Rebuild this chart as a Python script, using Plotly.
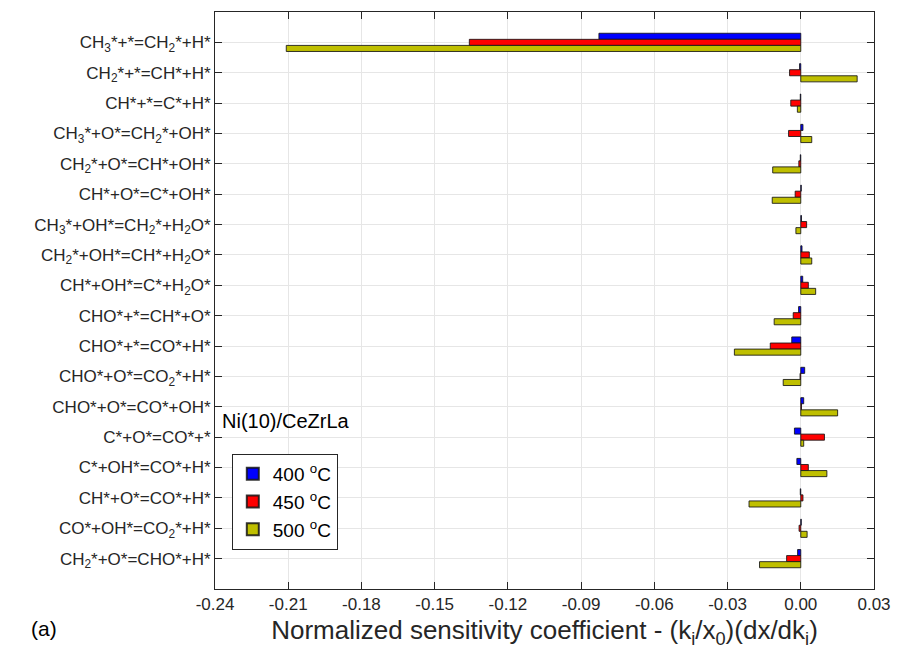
import plotly.graph_objects as go

reactions = [
    "CH<sub>3</sub>*+*=CH<sub>2</sub>*+H*",
    "CH<sub>2</sub>*+*=CH*+H*",
    "CH*+*=C*+H*",
    "CH<sub>3</sub>*+O*=CH<sub>2</sub>*+OH*",
    "CH<sub>2</sub>*+O*=CH*+OH*",
    "CH*+O*=C*+OH*",
    "CH<sub>3</sub>*+OH*=CH<sub>2</sub>*+H<sub>2</sub>O*",
    "CH<sub>2</sub>*+OH*=CH*+H<sub>2</sub>O*",
    "CH*+OH*=C*+H<sub>2</sub>O*",
    "CHO*+*=CH*+O*",
    "CHO*+*=CO*+H*",
    "CHO*+O*=CO<sub>2</sub>*+H*",
    "CHO*+O*=CO*+OH*",
    "C*+O*=CO*+*",
    "C*+OH*=CO*+H*",
    "CH*+O*=CO*+H*",
    "CO*+OH*=CO<sub>2</sub>*+H*",
    "CH<sub>2</sub>*+O*=CHO*+H*",
]

s400 = [-0.0827, -0.0005, -0.0002, 0.0009, -0.0002, 0.0002, 0.0003, 0.0005, 0.0008,
        -0.0009, -0.0037, 0.0016, 0.0012, -0.0026, -0.0016, -0.0002, 0.0002, -0.0013]
s450 = [-0.1358, -0.0046, -0.0041, -0.0050, -0.0008, -0.0023, 0.0024, 0.0035, 0.0031,
        -0.0031, -0.0125, -0.0003, 0.0003, 0.0097, 0.0031, 0.0009, -0.0007, -0.0058]
s500 = [-0.2108, 0.0231, -0.0014, 0.0045, -0.0115, -0.0117, -0.0020, 0.0045, 0.0061,
        -0.0109, -0.0272, -0.0072, 0.0151, 0.0012, 0.0107, -0.0212, 0.0026, -0.0169]

series_names = ["400 <sup>o</sup>C", "450 <sup>o</sup>C", "500 <sup>o</sup>C"]
series_colors = ["#0000ff", "#ff0000", "#bfbf00"]

x_ticks = [-0.24, -0.21, -0.18, -0.15, -0.12, -0.09, -0.06, -0.03, 0.0, 0.03]
x_ticklabels = ["-0.24", "-0.21", "-0.18", "-0.15", "-0.12", "-0.09", "-0.06", "-0.03", "0.00", "0.03"]

font_family = "Liberation Sans, Arial, sans-serif"

fig = go.Figure()
for name, vals, col in zip(series_names, [s400, s450, s500], series_colors):
    fig.add_trace(go.Bar(
        y=reactions, x=vals, orientation="h", name=name,
        marker=dict(color=col, line=dict(color="rgba(20,20,20,0.85)", width=1)),
    ))

fig.update_layout(
    width=902, height=660,
    margin=dict(l=215, r=21, t=11, b=71),
    paper_bgcolor="white", plot_bgcolor="white",
    barmode="group", bargap=0.4, bargroupgap=0,
    font=dict(family=font_family, color="#262626"),
    showlegend=True,
    legend=dict(
        x=0.0255, y=0.234, xanchor="left", yanchor="top",
        bgcolor="white", bordercolor="#262626", borderwidth=1,
        font=dict(size=19, color="#000000"),
        itemsizing="constant", tracegroupgap=4,
    ),
    xaxis=dict(
        range=[-0.24, 0.03], tickvals=x_ticks, ticktext=x_ticklabels,
        showgrid=True, gridcolor="#e6e6e6", gridwidth=1,
        zeroline=False, showline=True, linecolor="#262626", linewidth=1,
        mirror="ticks", ticks="inside", ticklen=7, tickcolor="#262626",
        tickfont=dict(size=17, color="#262626"),
        title=dict(text="Normalized sensitivity coefficient - (k<sub>i</sub>/x<sub>0</sub>)(dx/dk<sub>i</sub>)",
                   font=dict(size=26, color="#262626"), standoff=7),
    ),
    yaxis=dict(
        type="category", categoryorder="array", categoryarray=reactions,
        range=[18, -1],
        showgrid=True, gridcolor="#e6e6e6", gridwidth=1,
        zeroline=False, showline=True, linecolor="#262626", linewidth=1,
        mirror="ticks", ticks="inside", ticklen=7, tickcolor="#262626",
        tickfont=dict(size=17, color="#262626"),
    ),
    annotations=[
        dict(text="Ni(10)/CeZrLa", xref="paper", yref="paper", x=0.008, y=0.291,
             xanchor="left", yanchor="middle", showarrow=False,
             font=dict(size=20, color="#000000")),
        dict(text="(a)", xref="paper", yref="paper", x=-0.283, y=-0.068,
             xanchor="left", yanchor="middle", showarrow=False,
             font=dict(size=21, color="#000000")),
    ],
)

fig.write_html("out.html")
